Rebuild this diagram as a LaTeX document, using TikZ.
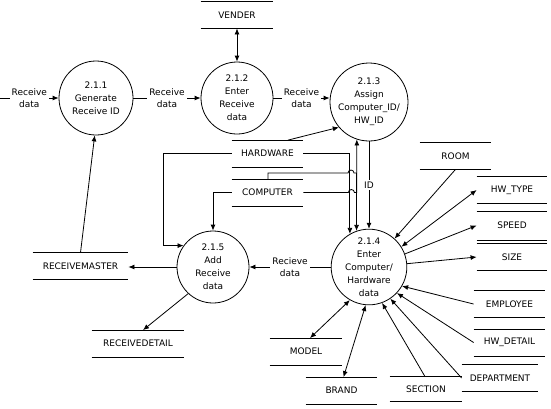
\documentclass[tikz,border=0pt]{standalone}
\usepackage{fontspec}
\setmainfont{DejaVu Sans}
\usepackage{tikz}
\usetikzlibrary{arrows.meta}

\tikzset{
	proc/.style={circle, draw, minimum size=73pt, inner sep=0pt, align=center, font=\fontsize{9}{13}\selectfont},
	store/.style={minimum width=71pt, minimum height=26pt, inner sep=0pt, font=\fontsize{9}{11}\selectfont,
		append after command={(\tikzlastnode.north west) edge (\tikzlastnode.north east)
			(\tikzlastnode.south west) edge (\tikzlastnode.south east)}},
	flow/.style={-{Latex[length=6pt,width=5pt]}},
	bothflow/.style={{Latex[length=6pt,width=5pt]}-{Latex[length=6pt,width=5pt]}},
	lbl/.style={fill=white, inner sep=2pt, align=center, font=\fontsize{9}{11.5}\selectfont}
}

\begin{document}
\begin{tikzpicture}[x=1pt, y=-1pt, line width=0.8pt]
			\useasboundingbox (0,0) rectangle (551,408);
			
			\node[proc, minimum size=74pt] (p1) at (96,98) {2.1.1\\Generate\\Receive ID};
			\node[proc, minimum size=72pt] (p2) at (237,98) {2.1.2\\Enter\\Receive\\data};
			\node[proc, minimum size=76pt] (p3) at (369,102) {2.1.3\\Assign\\Computer\_ID/\\HW\_ID};
			\node[proc] (p4) at (369,267) {2.1.4\\Enter\\Computer/\\Hardware\\data};
			\node[proc, minimum size=72pt] (p5) at (213,267) {2.1.5\\Add\\Receive\\data};
			
			\node[store, minimum width=72pt] (vender) at (237,15) {VENDER};
			\node[store] (hw) at (267.5,153.5) {HARDWARE};
			\node[store] (comp) at (267.5,192.5) {COMPUTER};
			\node[store] (room) at (455.5,156) {ROOM};
			\node[store, minimum width=70pt] (hwtype) at (512,190) {HW\_TYPE};
			\node[store, minimum width=70pt, minimum height=28pt] (speed) at (512,225.5) {SPEED};
			\node[store, minimum width=70pt] (size) at (512,257) {SIZE};
			\node[store] (emp) at (509.5,304) {EMPLOYEE};
			\node[store] (hwdet) at (509.5,342.5) {HW\_DETAIL};
			\node[store, minimum width=76pt] (dept) at (500,378) {DEPARTMENT};
			\node[store, minimum width=72pt, minimum height=24pt] (sect) at (426,389) {SECTION};
			\node[store] (brand) at (341.5,390.5) {BRAND};
			\node[store, minimum width=72pt] (model) at (306,351.5) {MODEL};
			\node[store, minimum width=95pt] (rmaster) at (80.5,266) {RECEIVEMASTER};
			\node[store, minimum width=92pt] (rdetail) at (138,343.5) {RECEIVEDETAIL};
			
			\coordinate (src) at (0,98);
			
			\draw[flow] (src) -- (p1.west) node[lbl, midway] {Receive\\data};
			\draw[flow] (p1.east) -- (p2.west) node[lbl, midway] {Receive\\data};
			\draw[flow] (p2.east) -- (p2.east -| p3.west) node[lbl, midway] {Receive\\data};
			\draw[bothflow] (vender.south) -- (p2.north);
			
			\draw[flow] ([xshift=20.5pt]hw.north) -- (p3.220);
			\draw[flow] ([xshift=.5pt]comp.north) |- (348,173) arc[start angle=180, end angle=0, radius=3pt] -| (p4.109);
			\draw[flow] (comp.east) -- ++(45,0) arc[start angle=180, end angle=0, radius=3pt] -| (p3.-108);
			\draw[flow] (hw.east) -| (p4.120);
			\draw[flow] (p3.south) -- (p4.north) node[lbl, midway] {ID};
			
			\draw[flow] (hw.west) -- ++(-68,0) |- (p5.144);
			\draw[flow] (comp.west) -| (p5.north);
			\draw[flow] (p4.west) -- (p4.west -| p5.east) node[lbl, midway] {Recieve\\data};
			\draw[flow] (p5.west) -- (p5.west -| rmaster.east);
			\draw[flow] (rmaster.north) -- (p1.-92);
			\draw[flow] (p5.-133) -- ([xshift=5pt]rdetail.north);
			
			\draw[flow] (room.south) -- (p4.48);
			\draw[bothflow] (p4.32) -- (hwtype.west);
			\draw[flow] (p4.20) -- (speed.west);
			\draw[flow] (p4.5) -- (size.west);
			\draw[flow] (emp.west) -- (p4.-30);
			\draw[flow] (hwdet.west) -- (p4.-43);
			\draw[flow] (dept.west) -- (p4.-56);
			\draw[flow] ([xshift=-1pt]sect.north) -- (p4.-70);
			\draw[bothflow] ([xshift=2pt]brand.north) -- (p4.-95);
			\draw[bothflow] ([xshift=4pt]model.north) -- (p4.-120);
			
		\end{tikzpicture}
\end{document}
